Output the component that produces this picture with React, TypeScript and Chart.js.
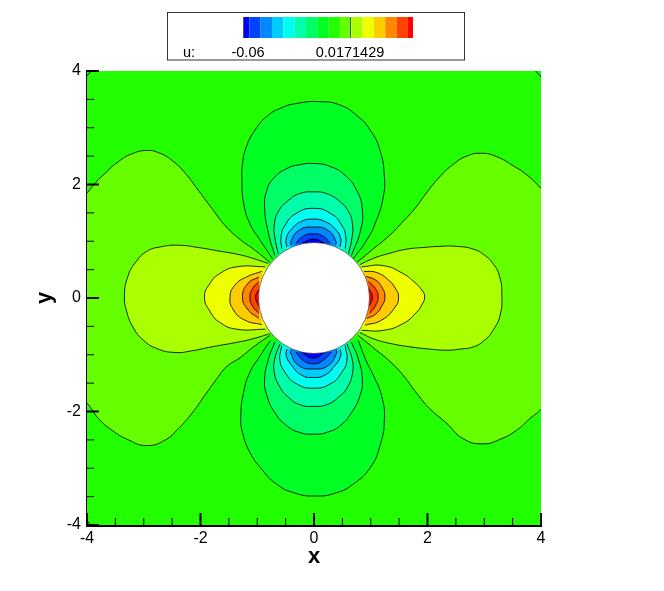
import React, { useEffect, useRef } from "react";
import { Chart, registerables } from "chart.js";

Chart.register(...registerables);

type Pt = [number, number];

const levelColors = ["#0000ff", "#0044ff", "#0088ff", "#00ccff", "#00ffee", "#00ffaa", "#00ff66", "#00ff22", "#22ff00", "#66ff00", "#aaff00", "#eeff00", "#ffcc00", "#ff8800", "#ff4400", "#ff0000"];
const backgroundColor = "#22ff00";
const majorTicks = [-4, -2, 0, 2, 4];
const minorTicks = [-3.5, -3, -2.5, -1.5, -1, -0.5, 0.5, 1, 1.5, 2.5, 3, 3.5];
const legendLabels = ["-0.06", "0.0171429"];

const cornerTopRight: Pt[] = [[3.86, 4.05], [4.05, 3.84], [4.3, 4.3]];
const cornerTopLeft: Pt[] = [[-4.05, 3.86], [-3.88, 4.05], [-4.3, 4.3]];
const cornerBottomLeft: Pt[] = [[-4.05, -3.85], [-3.9, -4.05], [-4.3, -4.3]];

const lobeARight: Pt[] = [[0.76, 0.63], [1.05, 0.87], [1.34, 1.11], [1.57, 1.35], [1.78, 1.58], [1.98, 1.85], [2.22, 2.14], [2.46, 2.36], [2.69, 2.5], [2.95, 2.55], [3.22, 2.49], [3.51, 2.33], [3.75, 2.17], [4.0, 1.93], [4.3, 1.6], [4.3, -1.6], [4.0, -1.96], [3.81, -2.12], [3.57, -2.33], [3.28, -2.49], [2.98, -2.57], [2.63, -2.48], [2.34, -2.21], [2.04, -1.95], [1.81, -1.68], [1.57, -1.36], [1.34, -1.12], [1.05, -0.88], [0.78, -0.66]];
const lobeALeft: Pt[] = [[-0.78, 0.63], [-1.05, 0.85], [-1.3, 1.03], [-1.57, 1.28], [-1.8, 1.58], [-2.04, 1.9], [-2.27, 2.2], [-2.51, 2.43], [-2.74, 2.56], [-2.95, 2.6], [-3.21, 2.54], [-3.45, 2.4], [-3.68, 2.2], [-3.86, 2.02], [-3.99, 1.86], [-4.3, 1.5], [-4.3, -1.5], [-3.99, -1.86], [-3.8, -2.12], [-3.56, -2.33], [-3.27, -2.5], [-2.95, -2.6], [-2.62, -2.5], [-2.39, -2.3], [-2.15, -2.03], [-1.92, -1.71], [-1.71, -1.42], [-1.54, -1.21], [-1.3, -1.05], [-1.05, -0.85], [-0.78, -0.66]];
const lobeBRight: Pt[] = [[0.81, 0.59], [1.05, 0.7], [1.34, 0.79], [1.63, 0.86], [1.93, 0.89], [2.22, 0.91], [2.51, 0.91], [2.81, 0.86], [3.01, 0.75], [3.16, 0.6], [3.27, 0.38], [3.31, 0.05], [3.28, -0.3], [3.16, -0.56], [3.01, -0.74], [2.81, -0.86], [2.57, -0.9], [2.34, -0.92], [2.04, -0.9], [1.69, -0.86], [1.34, -0.8], [1.05, -0.72], [0.81, -0.61]];
const lobeBLeft: Pt[] = [[-0.81, 0.61], [-1.05, 0.69], [-1.3, 0.76], [-1.69, 0.83], [-2.04, 0.89], [-2.39, 0.93], [-2.71, 0.9], [-2.95, 0.82], [-3.15, 0.62], [-3.28, 0.38], [-3.34, 0.05], [-3.3, -0.24], [-3.18, -0.53], [-3.01, -0.74], [-2.77, -0.89], [-2.45, -0.96], [-2.15, -0.93], [-1.8, -0.86], [-1.3, -0.77], [-1.05, -0.71], [-0.78, -0.63]];
const lobeCRight: Pt[] = [[0.84, 0.55], [1.22, 0.57], [1.57, 0.43], [1.78, 0.27], [1.9, 0.14], [1.95, 0.02], [1.9, -0.12], [1.8, -0.26], [1.57, -0.45], [1.22, -0.57], [0.84, -0.57]];
const lobeCLeft: Pt[] = [[-0.86, 0.55], [-1.36, 0.55], [-1.66, 0.43], [-1.83, 0.26], [-1.93, 0.02], [-1.83, -0.24], [-1.66, -0.43], [-1.36, -0.55], [-0.86, -0.55]];
const lobeDRight: Pt[] = [[0.88, 0.47], [1.1, 0.45], [1.31, 0.32], [1.44, 0.16], [1.49, 0.02], [1.43, -0.16], [1.19, -0.39], [0.9, -0.48]];
const lobeDLeft: Pt[] = [[-0.92, 0.47], [-1.19, 0.37], [-1.39, 0.23], [-1.48, 0.02], [-1.42, -0.21], [-1.22, -0.39], [-0.92, -0.47]];
const lobeERight: Pt[] = [[0.92, 0.38], [1.08, 0.32], [1.19, 0.2], [1.25, 0.02], [1.19, -0.15], [1.08, -0.29], [0.93, -0.36]];
const lobeELeft: Pt[] = [[-0.97, 0.37], [-1.16, 0.26], [-1.26, 0.02], [-1.16, -0.21], [-0.97, -0.36]];
const lobeFRight: Pt[] = [[0.96, 0.29], [1.08, 0.17], [1.13, 0.02], [1.08, -0.14], [0.98, -0.27]];
const lobeFLeft: Pt[] = [[-0.97, 0.29], [-1.08, 0.17], [-1.13, 0.02], [-1.08, -0.15], [-0.97, -0.27]];
const lobeGRight: Pt[] = [[0.96, 0.17], [1.03, 0.02], [0.98, -0.13]];
const lobeGLeft: Pt[] = [[-0.98, 0.14], [-1.03, 0.02], [-0.98, -0.13]];

const upper1: Pt[] = [[-0.73, 0.69], [-0.95, 1.02], [-1.13, 1.31], [-1.24, 1.67], [-1.27, 2.08], [-1.26, 2.37], [-1.19, 2.67], [-1.04, 2.96], [-0.83, 3.2], [-0.6, 3.34], [-0.3, 3.43], [0.11, 3.46], [0.46, 3.4], [0.75, 3.22], [0.99, 2.96], [1.16, 2.61], [1.24, 2.14], [1.22, 1.78], [1.1, 1.37], [0.93, 1.02], [0.69, 0.69]];
const upper2: Pt[] = [[-0.69, 0.75], [-0.8, 1.13], [-0.87, 1.6], [-0.83, 1.9], [-0.72, 2.1], [-0.48, 2.28], [-0.25, 2.35], [-0.01, 2.37], [0.28, 2.32], [0.55, 2.16], [0.75, 1.9], [0.85, 1.57], [0.82, 1.19], [0.66, 0.75]];
const upper3: Pt[] = [[-0.63, 0.78], [-0.69, 1.07], [-0.7, 1.28], [-0.63, 1.52], [-0.45, 1.72], [-0.25, 1.84], [-0.01, 1.87], [0.22, 1.84], [0.43, 1.72], [0.61, 1.52], [0.68, 1.28], [0.67, 1.07], [0.61, 0.78]];
const upper4: Pt[] = [[-0.57, 0.87], [-0.58, 1.08], [-0.51, 1.28], [-0.33, 1.48], [-0.01, 1.58], [0.31, 1.48], [0.49, 1.28], [0.56, 1.08], [0.55, 0.87]];
const upper5: Pt[] = [[-0.48, 0.9], [-0.49, 1.05], [-0.39, 1.22], [-0.22, 1.35], [-0.01, 1.39], [0.19, 1.35], [0.37, 1.22], [0.47, 1.05], [0.46, 0.9]];
const upper6: Pt[] = [[-0.4, 0.93], [-0.41, 0.99], [-0.27, 1.19], [-0.01, 1.25], [0.25, 1.19], [0.39, 0.99], [0.38, 0.93]];
const upper7: Pt[] = [[-0.32, 0.96], [-0.19, 1.09], [-0.01, 1.13], [0.16, 1.09], [0.29, 0.96]];
const upper8: Pt[] = [[-0.2, 0.97], [-0.01, 1.04], [0.18, 0.97]];

const lower1: Pt[] = [[-0.77, -0.75], [-0.95, -1.02], [-1.13, -1.31], [-1.24, -1.66], [-1.29, -2.08], [-1.26, -2.37], [-1.13, -2.72], [-0.92, -3.02], [-0.66, -3.28], [-0.36, -3.43], [0.02, -3.49], [0.4, -3.43], [0.69, -3.28], [0.99, -2.99], [1.16, -2.61], [1.24, -2.14], [1.19, -1.72], [1.05, -1.37], [0.93, -1.13], [0.78, -0.75]];
const lower2: Pt[] = [[-0.69, -0.78], [-0.8, -1.07], [-0.87, -1.43], [-0.83, -1.72], [-0.69, -2.02], [-0.48, -2.25], [-0.25, -2.37], [-0.01, -2.4], [0.22, -2.37], [0.46, -2.25], [0.66, -2.02], [0.81, -1.72], [0.85, -1.43], [0.78, -1.07], [0.66, -0.78]];
const lower3: Pt[] = [[-0.6, -0.81], [-0.69, -1.07], [-0.7, -1.31], [-0.6, -1.57], [-0.45, -1.75], [-0.25, -1.88], [-0.01, -1.91], [0.22, -1.88], [0.43, -1.75], [0.59, -1.57], [0.68, -1.31], [0.67, -1.07], [0.58, -0.81]];
const lower4: Pt[] = [[-0.57, -0.84], [-0.6, -1.1], [-0.51, -1.31], [-0.33, -1.5], [-0.01, -1.59], [0.31, -1.5], [0.49, -1.31], [0.58, -1.1], [0.55, -0.84]];
const lower5: Pt[] = [[-0.48, -0.9], [-0.49, -1.02], [-0.39, -1.19], [-0.22, -1.36], [-0.01, -1.4], [0.19, -1.36], [0.37, -1.19], [0.47, -1.02], [0.46, -0.9]];
const lower6: Pt[] = [[-0.4, -0.91], [-0.41, -0.97], [-0.27, -1.19], [-0.01, -1.25], [0.25, -1.19], [0.4, -0.97], [0.39, -0.91]];
const lower7: Pt[] = [[-0.32, -0.95], [-0.19, -1.1], [-0.01, -1.16], [0.16, -1.1], [0.31, -0.95]];
const lower8: Pt[] = [[-0.22, -0.96], [-0.01, -1.06], [0.19, -0.96]];

// Painted in this order, outermost contour first.
const contourLayers: { pts: Pt[]; level: number; straight?: boolean }[] = [
  { pts: cornerTopRight, level: 7, straight: true },
  { pts: cornerTopLeft, level: 7, straight: true },
  { pts: cornerBottomLeft, level: 7, straight: true },
  { pts: lobeARight, level: 9 }, { pts: lobeALeft, level: 9 },
  { pts: lobeBRight, level: 10 }, { pts: lobeBLeft, level: 10 },
  { pts: lobeCRight, level: 11 }, { pts: lobeCLeft, level: 11 },
  { pts: lobeDRight, level: 12 }, { pts: lobeDLeft, level: 12 },
  { pts: lobeERight, level: 13 }, { pts: lobeELeft, level: 13 },
  { pts: lobeFRight, level: 14 }, { pts: lobeFLeft, level: 14 },
  { pts: lobeGRight, level: 15 }, { pts: lobeGLeft, level: 15 },
  { pts: upper1, level: 7 }, { pts: lower1, level: 7 },
  { pts: upper2, level: 6 }, { pts: lower2, level: 6 },
  { pts: upper3, level: 5 }, { pts: lower3, level: 5 },
  { pts: upper4, level: 4 }, { pts: lower4, level: 4 },
  { pts: upper5, level: 3 }, { pts: lower5, level: 3 },
  { pts: upper6, level: 2 }, { pts: lower6, level: 2 },
  { pts: upper7, level: 1 }, { pts: lower7, level: 1 },
  { pts: upper8, level: 0 }, { pts: lower8, level: 0 },
];

const FONT = '"Liberation Sans", Arial, sans-serif';

const framePlugin = {
  id: "frame",
  beforeDatasetsDraw(chart: any) {
    const { ctx, chartArea: a } = chart;
    ctx.save();
    ctx.fillStyle = backgroundColor;
    ctx.fillRect(a.left, a.top, a.right - a.left, a.bottom - a.top);
    ctx.restore();
  },
  afterDraw(chart: any) {
    const { ctx, chartArea: a, scales } = chart;
    ctx.save();
    ctx.strokeStyle = "#000";
    const tick = (list: number[], len: number, w: number) => {
      ctx.lineWidth = w;
      for (const v of list) {
        const px = scales.x.getPixelForValue(v);
        const py = scales.y.getPixelForValue(v);
        ctx.beginPath();
        ctx.moveTo(px, a.bottom);
        ctx.lineTo(px, a.bottom - len);
        ctx.moveTo(a.left, py);
        ctx.lineTo(a.left + len, py);
        ctx.stroke();
      }
    };
    tick(minorTicks, 7, 1);
    tick(majorTicks, 12, 2);

    // colour-map legend
    const boxL = 167.5, boxT = 12.5, boxW = 297, boxH = 47.5;
    ctx.strokeStyle = "#333";
    ctx.lineWidth = 1;
    ctx.strokeRect(boxL, boxT, boxW, boxH);
    const barL = 243, barR = 413, barT = 17, barB = 38;
    const step = 11.33;
    levelColors.forEach((c, i) => {
      const x0 = i === 0 ? barL : barL + 6 + (i - 1) * step + 0.3;
      const x1 = i === levelColors.length - 1 ? barR : barL + 6 + i * step + 0.3;
      ctx.fillStyle = c;
      ctx.fillRect(x0, barT, x1 - x0, barB - barT);
    });
    ctx.strokeStyle = "#555";
    ctx.beginPath();
    ctx.moveTo(350.5, barT);
    ctx.lineTo(350.5, barB);
    ctx.moveTo(243.5, barT);
    ctx.lineTo(243.5, barB);
    ctx.stroke();
    ctx.fillStyle = "#000";
    ctx.font = `14.5px ${FONT}`;
    ctx.textBaseline = "alphabetic";
    ctx.textAlign = "left";
    ctx.fillText("u:", 183, 57);
    ctx.textAlign = "center";
    ctx.fillText(legendLabels[0], 248, 57);
    ctx.fillText(legendLabels[1], 350, 57);
    ctx.restore();
  },
};

export default function App() {
  const ref = useRef<HTMLCanvasElement>(null);
  useEffect(() => {
    const datasets: any[] = contourLayers.map((l, i) => ({
      data: l.pts.map(([x, y]) => ({ x, y })),
      showLine: true,
      fill: "shape",
      backgroundColor: levelColors[l.level],
      borderColor: "rgba(0,0,0,0.85)",
      borderWidth: 1,
      tension: l.straight ? 0 : 0.5,
      pointRadius: 0,
      clip: 0,
      order: contourLayers.length + 1 - i,
    }));
    // cylinder: a single point at the origin, drawn on top of the field
    datasets.push({
      data: [{ x: 0, y: 0 }],
      showLine: false,
      pointRadius: 55.5,
      pointBackgroundColor: "#fff",
      pointBorderColor: "rgba(0,0,0,0.5)",
      pointBorderWidth: 1,
      clip: 0,
      order: 0,
    });
    const axis = (title: string, titlePad: any, tickPad: number, fit: (s: any) => void) => ({
      type: "linear",
      min: -4,
      max: 4,
      grid: { display: false, drawTicks: false },
      border: { display: true, color: "#000", width: 3 },
      ticks: {
        stepSize: 2,
        padding: tickPad,
        color: "#000",
        font: { family: FONT, size: 16 },
        maxRotation: 0,
        callback: (v: number) => String(v),
      },
      title: { display: true, text: title, color: "#000", font: { family: FONT, size: 22, weight: "bold" }, padding: titlePad },
      afterFit: fit,
    });
    const chart = new Chart(ref.current!, {
      type: "scatter",
      data: { datasets },
      plugins: [framePlugin],
      options: {
        animation: false,
        responsive: false,
        layout: { padding: { left: 0, top: 71, right: 123, bottom: 0 } },
        plugins: { legend: { display: false }, tooltip: { enabled: false } },
        scales: {
          x: axis("x", { top: 0, bottom: 21 }, 4, (s: any) => { s.height = 66; }),
          y: axis("y", { top: 32, bottom: 0 }, 6, (s: any) => { s.width = 87; }),
        },
      } as any,
    } as any);
    return () => chart.destroy();
  }, []);
  return (
    <canvas
      ref={ref}
      width={664}
      height={591}
      style={{ position: "fixed", left: 0, top: 0, width: 664, height: 591, display: "block" }}
    />
  );
}
